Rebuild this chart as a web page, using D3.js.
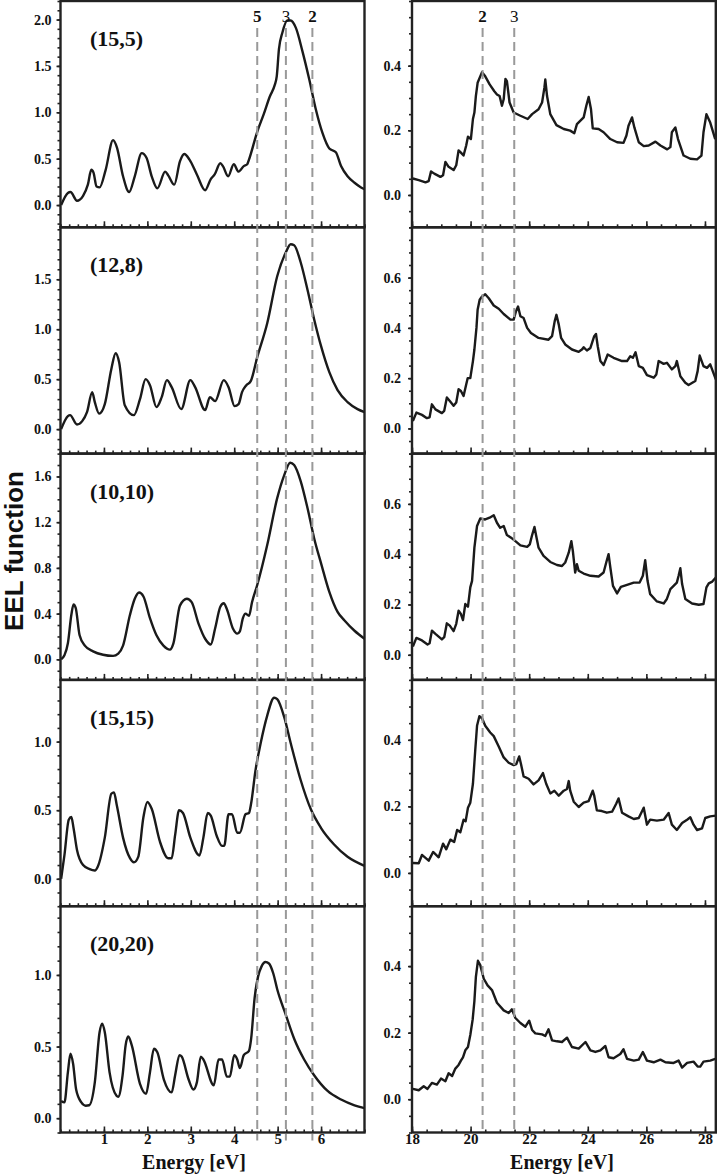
<!DOCTYPE html>
<html>
<head>
<meta charset="utf-8">
<script src="https://cdn.jsdelivr.net/npm/d3@7"></script>
<style>
  body { margin: 0; background: #fff; }
  text { font-family: "Liberation Serif", "Times New Roman", serif; font-weight: bold; }
</style>
</head>
<body>
<div id="chart"></div>
<script>
// panel labels (chirality)
const panelNames = ["(15,5)", "(12,8)", "(10,10)", "(15,15)", "(20,20)"];

// low energy spectra, [energy eV, EEL]
const low_15_5 = [[0.015,0],[0.17,0.13],[0.23,0.14],[0.38,0.047],[0.52,0.10],[0.63,0.22],[0.71,0.38],[0.76,0.35],[0.83,0.20],[0.90,0.19],[1.04,0.38],[1.21,0.70],[1.30,0.62],[1.44,0.31],[1.58,0.14],[1.71,0.31],[1.87,0.56],[1.98,0.51],[2.10,0.31],[2.23,0.18],[2.41,0.36],[2.48,0.32],[2.62,0.22],[2.75,0.47],[2.85,0.55],[2.97,0.49],[3.14,0.33],[3.33,0.16],[3.46,0.28],[3.55,0.33],[3.68,0.45],[3.74,0.42],[3.86,0.31],[3.99,0.44],[4.10,0.36],[4.22,0.42],[4.30,0.44],[4.34,0.49],[4.53,0.79],[4.68,0.98],[4.82,1.17],[4.93,1.29],[4.98,1.39],[5.03,1.68],[5.11,1.86],[5.22,1.99],[5.30,1.99],[5.42,1.91],[5.57,1.66],[5.73,1.35],[5.88,1.03],[6.03,0.78],[6.19,0.61],[6.34,0.57],[6.46,0.42],[6.61,0.31],[6.77,0.24],[6.92,0.19],[7.0,0.17]];
const low_12_8 = [[0.015,0],[0.17,0.13],[0.22,0.14],[0.38,0.046],[0.50,0.08],[0.61,0.17],[0.73,0.37],[0.79,0.27],[0.89,0.155],[1.02,0.25],[1.17,0.60],[1.27,0.76],[1.35,0.67],[1.48,0.24],[1.69,0.14],[1.83,0.30],[1.96,0.50],[2.06,0.44],[2.21,0.22],[2.33,0.32],[2.45,0.49],[2.56,0.42],[2.78,0.20],[2.99,0.49],[3.10,0.42],[3.33,0.19],[3.44,0.32],[3.56,0.28],[3.76,0.49],[3.87,0.42],[4.01,0.23],[4.10,0.25],[4.18,0.37],[4.28,0.44],[4.38,0.48],[4.53,0.72],[4.76,1.06],[4.99,1.53],[5.19,1.77],[5.30,1.85],[5.38,1.84],[5.53,1.67],[5.69,1.39],[5.84,1.10],[6.00,0.83],[6.19,0.57],[6.38,0.39],[6.61,0.27],[6.84,0.20],[7.0,0.17]];
const low_10_10 = [[0.015,0],[0.09,0.035],[0.17,0.14],[0.25,0.39],[0.30,0.48],[0.35,0.45],[0.44,0.21],[0.56,0.12],[0.75,0.07],[0.98,0.04],[1.21,0.03],[1.33,0.05],[1.44,0.12],[1.60,0.39],[1.71,0.53],[1.81,0.585],[1.91,0.55],[2.06,0.36],[2.21,0.21],[2.37,0.12],[2.52,0.085],[2.60,0.14],[2.75,0.47],[2.91,0.53],[3.02,0.50],[3.18,0.31],[3.33,0.18],[3.46,0.13],[3.56,0.27],[3.68,0.46],[3.76,0.49],[3.83,0.44],[3.97,0.27],[4.07,0.225],[4.13,0.245],[4.20,0.36],[4.26,0.40],[4.34,0.38],[4.41,0.50],[4.53,0.65],[4.76,1.0],[4.99,1.41],[5.15,1.61],[5.29,1.72],[5.38,1.70],[5.53,1.56],[5.69,1.32],[5.84,1.06],[6.00,0.84],[6.19,0.59],[6.38,0.415],[6.54,0.34],[6.77,0.25],[7.0,0.18]];
const low_15_15 = [[0.015,0],[0.09,0.17],[0.19,0.43],[0.25,0.45],[0.30,0.37],[0.38,0.21],[0.52,0.10],[0.67,0.07],[0.79,0.06],[0.86,0.09],[1.02,0.30],[1.17,0.62],[1.23,0.63],[1.30,0.53],[1.44,0.30],[1.60,0.15],[1.69,0.12],[1.79,0.16],[1.91,0.45],[2.0,0.56],[2.10,0.51],[2.29,0.27],[2.48,0.15],[2.56,0.15],[2.64,0.32],[2.73,0.50],[2.82,0.48],[2.99,0.30],[3.20,0.17],[3.29,0.30],[3.39,0.48],[3.46,0.46],[3.60,0.31],[3.72,0.24],[3.77,0.24],[3.87,0.47],[3.95,0.47],[4.07,0.335],[4.13,0.335],[4.26,0.47],[4.34,0.48],[4.39,0.55],[4.49,0.79],[4.61,0.99],[4.76,1.19],[4.92,1.32],[4.99,1.31],[5.15,1.18],[5.30,0.99],[5.53,0.72],[5.76,0.51],[6.0,0.37],[6.30,0.25],[6.61,0.16],[7.0,0.094]];
const low_20_20 = [[0.015,0.12],[0.09,0.11],[0.17,0.32],[0.23,0.45],[0.29,0.38],[0.36,0.20],[0.48,0.11],[0.58,0.087],[0.66,0.09],[0.79,0.25],[0.90,0.60],[0.96,0.66],[1.02,0.60],[1.13,0.32],[1.29,0.157],[1.33,0.15],[1.43,0.30],[1.50,0.51],[1.56,0.57],[1.64,0.51],[1.83,0.24],[1.97,0.17],[2.06,0.32],[2.15,0.485],[2.23,0.46],[2.38,0.27],[2.56,0.18],[2.64,0.30],[2.74,0.44],[2.79,0.43],[2.95,0.27],[3.06,0.20],[3.14,0.25],[3.23,0.43],[3.29,0.41],[3.53,0.23],[3.64,0.41],[3.72,0.41],[3.83,0.29],[3.90,0.29],[4.00,0.44],[4.07,0.41],[4.13,0.35],[4.22,0.44],[4.34,0.47],[4.39,0.555],[4.47,0.84],[4.55,0.99],[4.63,1.06],[4.72,1.09],[4.80,1.08],[4.90,1.01],[4.99,0.90],[5.19,0.72],[5.38,0.555],[5.61,0.41],[5.84,0.30],[6.15,0.19],[6.46,0.13],[6.77,0.09],[7.0,0.07]];

// high energy spectra, [energy eV, EEL]
const high_15_5 = [[18.03,0.051],[18.23,0.046],[18.46,0.039],[18.57,0.043],[18.65,0.073],[18.76,0.066],[18.97,0.056],[19.06,0.061],[19.14,0.102],[19.25,0.087],[19.42,0.077],[19.51,0.092],[19.59,0.138],[19.67,0.131],[19.76,0.122],[19.85,0.153],[19.91,0.18],[20.01,0.173],[20.08,0.235],[20.13,0.255],[20.18,0.306],[20.24,0.347],[20.39,0.38],[20.50,0.367],[20.65,0.342],[20.81,0.321],[20.90,0.311],[20.99,0.306],[21.07,0.276],[21.13,0.296],[21.19,0.359],[21.24,0.352],[21.33,0.286],[21.47,0.255],[21.70,0.245],[21.95,0.235],[22.10,0.25],[22.32,0.265],[22.44,0.286],[22.52,0.332],[22.55,0.357],[22.61,0.306],[22.72,0.25],[22.93,0.216],[23.18,0.204],[23.40,0.199],[23.54,0.191],[23.63,0.219],[23.86,0.24],[23.95,0.276],[24.03,0.303],[24.11,0.265],[24.17,0.206],[24.37,0.204],[24.54,0.194],[24.77,0.173],[25.00,0.163],[25.22,0.161],[25.32,0.184],[25.39,0.214],[25.51,0.24],[25.59,0.209],[25.74,0.163],[25.91,0.151],[26.08,0.153],[26.31,0.165],[26.48,0.153],[26.71,0.141],[26.82,0.148],[26.87,0.194],[26.99,0.209],[27.08,0.173],[27.27,0.122],[27.50,0.112],[27.73,0.11],[27.88,0.122],[27.95,0.194],[28.05,0.25],[28.18,0.224],[28.35,0.173]];
const high_12_8 = [[18.03,0.03],[18.15,0.063],[18.34,0.054],[18.51,0.041],[18.60,0.044],[18.68,0.096],[18.80,0.076],[19.02,0.061],[19.10,0.07],[19.19,0.123],[19.29,0.109],[19.42,0.09],[19.51,0.103],[19.59,0.156],[19.67,0.149],[19.76,0.129],[19.85,0.175],[19.90,0.2],[19.99,0.2],[20.08,0.268],[20.13,0.314],[20.20,0.40],[20.24,0.472],[20.31,0.512],[20.39,0.525],[20.50,0.534],[20.62,0.518],[20.79,0.489],[20.96,0.476],[21.13,0.455],[21.36,0.433],[21.47,0.433],[21.55,0.466],[21.62,0.485],[21.70,0.446],[21.81,0.439],[21.93,0.40],[22.06,0.38],[22.32,0.36],[22.66,0.353],[22.78,0.367],[22.87,0.426],[22.93,0.452],[23.01,0.413],[23.09,0.36],[23.23,0.334],[23.46,0.314],[23.69,0.305],[23.80,0.314],[23.86,0.323],[23.97,0.31],[24.09,0.32],[24.22,0.367],[24.28,0.376],[24.34,0.327],[24.43,0.268],[24.54,0.252],[24.68,0.294],[24.88,0.281],[25.17,0.268],[25.34,0.268],[25.45,0.287],[25.54,0.281],[25.63,0.303],[25.74,0.248],[25.88,0.241],[26.02,0.212],[26.25,0.202],[26.34,0.215],[26.42,0.268],[26.59,0.257],[26.70,0.261],[26.87,0.235],[26.99,0.248],[27.04,0.268],[27.16,0.208],[27.33,0.182],[27.44,0.173],[27.67,0.189],[27.75,0.228],[27.82,0.29],[27.95,0.248],[28.07,0.241],[28.18,0.255],[28.37,0.195]];
const high_10_10 = [[18.03,0.033],[18.15,0.067],[18.34,0.057],[18.53,0.041],[18.60,0.046],[18.68,0.096],[18.80,0.083],[19.02,0.061],[19.10,0.07],[19.19,0.125],[19.29,0.116],[19.42,0.094],[19.51,0.123],[19.59,0.175],[19.67,0.162],[19.74,0.138],[19.82,0.202],[19.91,0.191],[19.99,0.268],[20.05,0.294],[20.13,0.426],[20.22,0.512],[20.33,0.542],[20.50,0.538],[20.65,0.545],[20.79,0.555],[20.90,0.525],[21.01,0.505],[21.13,0.512],[21.24,0.476],[21.41,0.463],[21.53,0.452],[21.70,0.435],[21.93,0.429],[22.02,0.439],[22.10,0.476],[22.18,0.508],[22.25,0.466],[22.32,0.426],[22.49,0.393],[22.72,0.369],[22.95,0.357],[23.12,0.353],[23.23,0.367],[23.35,0.406],[23.44,0.452],[23.49,0.413],[23.57,0.327],[23.63,0.36],[23.69,0.334],[23.86,0.323],[24.09,0.314],[24.37,0.311],[24.54,0.327],[24.63,0.367],[24.71,0.40],[24.77,0.347],[24.86,0.274],[25.00,0.244],[25.13,0.27],[25.34,0.278],[25.57,0.287],[25.77,0.287],[25.88,0.314],[25.96,0.376],[26.04,0.294],[26.13,0.241],[26.36,0.212],[26.59,0.204],[26.70,0.222],[26.82,0.261],[27.04,0.287],[27.10,0.314],[27.16,0.344],[27.22,0.281],[27.33,0.222],[27.56,0.204],[27.79,0.199],[27.95,0.202],[28.05,0.268],[28.13,0.284],[28.25,0.291],[28.37,0.307]];
const high_15_15 = [[18.03,0.03],[18.23,0.029],[18.34,0.054],[18.57,0.037],[18.72,0.063],[18.91,0.047],[19.06,0.088],[19.17,0.071],[19.31,0.10],[19.44,0.093],[19.54,0.129],[19.65,0.122],[19.76,0.16],[19.83,0.155],[19.91,0.196],[19.99,0.211],[20.08,0.268],[20.16,0.37],[20.22,0.442],[20.30,0.471],[20.39,0.465],[20.50,0.442],[20.67,0.422],[20.79,0.411],[20.96,0.38],[21.13,0.347],[21.30,0.331],[21.47,0.324],[21.56,0.327],[21.66,0.35],[21.72,0.327],[21.81,0.29],[21.98,0.283],[22.15,0.266],[22.32,0.278],[22.47,0.30],[22.58,0.268],[22.72,0.239],[22.86,0.247],[23.01,0.232],[23.18,0.247],[23.29,0.252],[23.35,0.276],[23.40,0.247],[23.52,0.214],[23.69,0.198],[23.86,0.211],[24.03,0.216],[24.17,0.247],[24.22,0.232],[24.31,0.188],[24.48,0.186],[24.65,0.181],[24.83,0.184],[24.97,0.208],[25.05,0.224],[25.17,0.181],[25.39,0.17],[25.57,0.162],[25.74,0.165],[25.91,0.196],[26.02,0.145],[26.13,0.16],[26.36,0.157],[26.59,0.16],[26.76,0.18],[26.87,0.145],[27.04,0.129],[27.22,0.15],[27.39,0.16],[27.50,0.167],[27.61,0.145],[27.73,0.129],[27.90,0.134],[28.01,0.165],[28.18,0.17],[28.37,0.172]];
const high_20_20 = [[18.03,0.031],[18.23,0.027],[18.40,0.039],[18.53,0.031],[18.68,0.049],[18.85,0.044],[18.99,0.062],[19.14,0.054],[19.25,0.078],[19.37,0.07],[19.48,0.092],[19.59,0.103],[19.67,0.116],[19.74,0.126],[19.82,0.147],[19.91,0.157],[19.99,0.193],[20.07,0.239],[20.13,0.295],[20.18,0.367],[20.25,0.416],[20.33,0.403],[20.45,0.362],[20.58,0.342],[20.73,0.328],[20.90,0.29],[21.13,0.267],[21.30,0.259],[21.41,0.27],[21.53,0.244],[21.70,0.229],[21.87,0.218],[22.00,0.236],[22.10,0.208],[22.21,0.198],[22.44,0.195],[22.55,0.19],[22.66,0.21],[22.78,0.177],[22.95,0.174],[23.12,0.172],[23.29,0.185],[23.46,0.157],[23.69,0.152],[23.92,0.172],[24.09,0.147],[24.26,0.142],[24.43,0.147],[24.60,0.16],[24.71,0.126],[24.88,0.123],[25.11,0.136],[25.22,0.15],[25.34,0.121],[25.57,0.116],[25.74,0.119],[25.88,0.142],[26.02,0.116],[26.25,0.111],[26.48,0.119],[26.65,0.111],[26.93,0.109],[27.10,0.116],[27.22,0.095],[27.39,0.109],[27.61,0.113],[27.75,0.098],[27.84,0.098],[27.95,0.113],[28.18,0.116],[28.35,0.121]];

const lowSeries = [low_15_5, low_12_8, low_10_10, low_15_15, low_20_20];
const highSeries = [high_15_5, high_12_8, high_10_10, high_15_15, high_20_20];

// y ranges and labelled ticks per panel
const lowDomains = [[-0.24, 2.2], [-0.245, 2.02], [-0.18, 1.8], [-0.2, 1.45], [-0.1, 1.48]];
const lowTicks = [[0, 0.5, 1.0, 1.5, 2.0], [0, 0.5, 1.0, 1.5], [0, 0.4, 0.8, 1.2, 1.6], [0, 0.5, 1.0], [0, 0.5, 1.0]];
const highDomains = [[-0.1, 0.6], [-0.1, 0.8], [-0.1, 0.8], [-0.1, 0.58], [-0.1, 0.58]];
const highTicks = [[0, 0.2, 0.4], [0, 0.2, 0.4, 0.6], [0, 0.2, 0.4, 0.6], [0, 0.2, 0.4], [0, 0.2, 0.4]];

const lowXTicks = [1, 2, 3, 4, 5, 6];
const highXTicks = [18, 20, 22, 24, 26, 28];

// marker lines
const lowMarks = [{e: 4.53, label: "5", bold: true}, {e: 5.19, label: "3", bold: false}, {e: 5.80, label: "2", bold: true}];
const highMarks = [{e: 20.41, label: "2", bold: true}, {e: 21.49, label: "3", bold: false}];

const width = 717, height = 1175;
const top0 = 1, ph = 226.3;

const svg = d3.select("#chart").append("svg")
    .attr("width", width)
    .attr("height", height);

const xL = d3.scaleLinear().domain([0, 7]).range([60.5, 364.5]);
const xR = d3.scaleLinear().domain([18, 28.37]).range([412, 715.8]);

function rangeStep(a, b, s) {
    let out = [];
    for (let v = Math.ceil(a / s - 1e-6); v * s <= b + 1e-9; v++) out.push(+(v * s).toFixed(3));
    return out;
}

function drawPanel(i, x, domain, ticks, minorStep, data, curve, xTicks, xMinorStep, labelPad) {
    const yTop = top0 + i * ph, yBot = yTop + ph;
    const y = d3.scaleLinear().domain(domain).range([yBot, yTop]);
    const g = svg.append("g");
    const x0 = x.range()[0];

    // y minor ticks (outward)
    g.append("g")
        .attr("transform", `translate(${x0},0)`)
        .call(d3.axisLeft(y).tickValues(rangeStep(domain[0], domain[1], minorStep)).tickSize(3).tickFormat(""))
        .call(a => a.select(".domain").remove())
        .selectAll("line").attr("stroke", "#222").attr("stroke-width", 1.6);
    // y labelled ticks
    g.append("g")
        .attr("transform", `translate(${x0},0)`)
        .call(d3.axisLeft(y).tickValues(ticks).tickSize(4).tickPadding(labelPad).tickFormat(d3.format(".1f")))
        .call(a => a.select(".domain").remove())
        .call(a => a.selectAll("line").attr("stroke", "#222").attr("stroke-width", 1.6))
        .call(a => a.selectAll("text").attr("font-size", 14).attr("fill", "#111")
            .style("font-family", "'Liberation Serif', serif").style("font-weight", "bold"));

    // x ticks on bottom edge, pointing up
    const xd = x.domain();
    const xa = g.append("g").attr("transform", `translate(0,${yBot})`);
    xa.append("g")
        .call(d3.axisBottom(x).tickValues(rangeStep(xd[0], xd[1], xMinorStep)).tickSize(-3).tickFormat(""))
        .call(a => a.select(".domain").remove())
        .selectAll("line").attr("stroke", "#222").attr("stroke-width", 1.6);
    const major = xa.append("g")
        .call(d3.axisBottom(x).tickValues(xTicks).tickSize(-6).tickPadding(1)
            .tickFormat(i === 4 ? d3.format("d") : ""))
        .call(a => a.select(".domain").remove());
    major.selectAll("line").attr("stroke", "#222").attr("stroke-width", 1.6);
    major.selectAll("text").attr("font-size", 15).attr("fill", "#111")
        .style("font-family", "'Liberation Serif', serif").style("font-weight", "bold");

    // curve
    const line = d3.line().x(d => x(d[0])).y(d => y(d[1])).curve(curve);
    g.append("path")
        .datum(data)
        .attr("fill", "none")
        .attr("stroke", "#1a1a1a")
        .attr("stroke-width", 2.4)
        .attr("stroke-linejoin", "round")
        .attr("d", line);

    // frame
    g.append("rect")
        .attr("x", x0).attr("y", yTop)
        .attr("width", x.range()[1] - x0).attr("height", ph)
        .attr("fill", "none").attr("stroke", "#222").attr("stroke-width", 2.4);

    return g;
}

for (let i = 0; i < 5; i++) {
    drawPanel(i, xL, lowDomains[i], lowTicks[i], 0.1, lowSeries[i], d3.curveMonotoneX, lowXTicks, 0.2, 5);
    drawPanel(i, xR, highDomains[i], highTicks[i], 0.05, highSeries[i], d3.curveLinear, highXTicks, 0.5, 7);
    svg.append("text")
        .attr("x", 90)
        .attr("y", top0 + i * ph + 45)
        .attr("font-size", 22)
        .attr("fill", "#111")
        .text(panelNames[i]);
}

// dashed marker lines across all panels
const yEnd = top0 + 5 * ph;
svg.selectAll(".markL").data(lowMarks).enter().append("line")
    .attr("x1", d => xL(d.e)).attr("x2", d => xL(d.e))
    .attr("y1", 28).attr("y2", yEnd + 8)
    .attr("stroke", "#999").attr("stroke-width", 2).attr("stroke-dasharray", "9,5");
svg.selectAll(".markR").data(highMarks).enter().append("line")
    .attr("x1", d => xR(d.e)).attr("x2", d => xR(d.e))
    .attr("y1", 28).attr("y2", yEnd)
    .attr("stroke", "#999").attr("stroke-width", 2).attr("stroke-dasharray", "9,5");

svg.selectAll(".labL").data(lowMarks.concat(highMarks.map(d => Object.assign({right: true}, d)))).enter()
    .append("text")
    .attr("x", d => d.right ? xR(d.e) : xL(d.e))
    .attr("y", 22)
    .attr("text-anchor", "middle")
    .attr("font-size", 17)
    .style("font-weight", d => d.bold ? "bold" : "normal")
    .attr("fill", "#111")
    .text(d => d.label);

// axis titles
svg.append("text").attr("x", 194).attr("y", 1169).attr("text-anchor", "middle")
    .attr("font-size", 20).attr("fill", "#111").text("Energy [eV]");
svg.append("text").attr("x", 562).attr("y", 1169).attr("text-anchor", "middle")
    .attr("font-size", 20).attr("fill", "#111").text("Energy [eV]");

svg.append("text")
    .attr("transform", "translate(23,551) rotate(-90)")
    .attr("text-anchor", "middle")
    .attr("font-size", 26)
    .attr("fill", "#111")
    .style("font-family", "'Liberation Sans', Arial, sans-serif")
    .text("EEL function");
</script>
</body>
</html>
